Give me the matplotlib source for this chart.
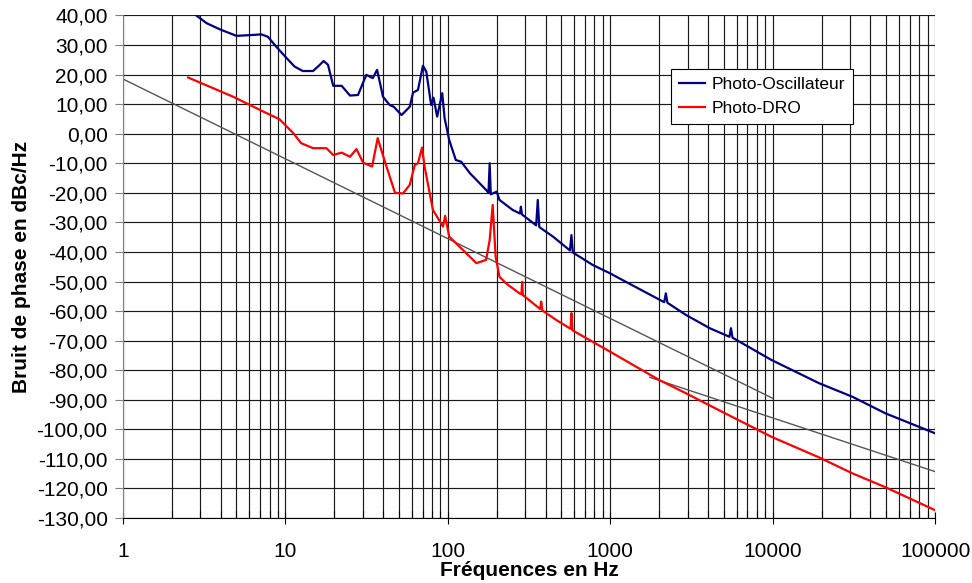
"""Phase noise comparison: Photo-Oscillateur vs Photo-DRO (log frequency axis)."""

import matplotlib
matplotlib.use("Agg")
import matplotlib.pyplot as plt
from matplotlib.ticker import FixedLocator, FuncFormatter, LogLocator, NullFormatter

plt.rcParams["font.family"] = ["Liberation Sans", "DejaVu Sans"]

# Photo-Oscillateur (Hz, dBc/Hz)
osc_freq = [2.8, 3.27, 3.95, 5.0, 6.3, 7.1, 7.8, 8.8, 10.2, 11.4, 12.8, 14.8, 16.3,
            17.2, 18.3, 19.7, 22.2, 25.0, 28.0, 31.5, 34.5, 36.7, 39.9, 43.9, 46.5,
            51.9, 58.3, 61.1, 65.5, 70.3, 73.7, 79.0, 81.6, 86.0, 92.4, 95.6, 102,
            112, 121, 137, 172, 178, 181, 184, 200, 208, 251, 278, 282, 286, 350,
            358, 366, 444, 565, 577, 589, 780, 995, 1135, 2150, 2200, 2250, 2925,
            4100, 5420, 5540, 5660, 9800, 19300, 31000, 49500, 99500]
osc_val = [40.2, 37.4, 35.3, 33.1, 33.4, 33.6, 32.8, 29.4, 25.5, 22.7, 21.2, 21.2, 23.3,
           24.6, 23.3, 16.2, 16.2, 12.9, 13.1, 19.9, 18.8, 21.6, 12.5, 9.7, 9.1,
           6.3, 9.1, 13.9, 14.8, 23.0, 21.0, 9.7, 12.2, 5.8, 13.7, 5.2, -2.1,
           -8.9, -9.5, -13.4, -19.0, -20.0, -10.0, -20.5, -19.6, -22.4, -25.8, -27.0, -24.7, -27.3, -31.0,
           -22.4, -31.6, -34.8, -39.5, -34.3, -40.2, -44.4, -47.2, -48.9, -57.0, -54.0, -57.2, -61.3,
           -65.8, -68.7, -65.8, -69.0, -76.5, -84.4, -89.0, -94.6, -101.3]

# Photo-DRO (Hz, dBc/Hz)
dro_freq = [2.52, 4.77, 7.3, 9.2, 11.2, 12.5, 14.8, 17.9, 19.7, 22.2, 25.0, 27.4, 30.1,
            34.2, 37.0, 40.7, 47.3, 53.0, 58.3, 62.6, 65.5, 69.4, 72.0, 77.4, 81.0,
            93.4, 96.3, 102, 121, 150, 172, 181, 189, 197, 208, 228, 276, 284, 287,
            290, 370, 376, 382, 465, 570, 577, 585, 995, 2000, 2925, 5100, 9800,
            19300, 31000, 49500, 99500]
dro_val = [19.0, 12.5, 7.5, 4.9, 0.15, -3.2, -4.9, -4.9, -7.2, -6.4, -7.8, -5.2, -9.8,
           -11.1, -1.5, -8.9, -20.0, -20.2, -17.3, -10.6, -10.0, -4.7, -11.2, -20.2, -25.8,
           -31.4, -27.8, -34.8, -38.8, -43.8, -42.7, -36.0, -24.1, -41.6, -48.4, -50.6, -54.0, -54.3, -50.1,
           -54.6, -59.3, -56.8, -59.8, -63.0, -66.0, -60.7, -66.5, -73.7, -83.3, -87.8, -94.6, -102.5,
           -109.5, -114.9, -119.6, -127.3]

# slope guide lines
guide1_freq = [1, 10000]
guide1_val = [18.5, -89.5]
guide2_freq = [1750, 100000]
guide2_val = [-82.4, -114.3]

y_ticks = list(range(-130, 41, 10))
x_ticks = [1, 10, 100, 1000, 10000, 100000]

fig = plt.figure(figsize=(9.72, 5.83), dpi=100)
ax = fig.add_axes([0.1265, 0.1115, 0.8355, 0.862])

ax.plot(guide1_freq, guide1_val, color="#555555", lw=1.0)
ax.plot(guide2_freq, guide2_val, color="#555555", lw=1.0)
ax.plot(osc_freq, osc_val, color="#000080", lw=1.6, label="Photo-Oscillateur")
ax.plot(dro_freq, dro_val, color="#ff0000", lw=1.6, label="Photo-DRO")

ax.set_xscale("log")
ax.set_xlim(1, 100000)
ax.set_ylim(-130, 40)

ax.xaxis.set_major_locator(FixedLocator(x_ticks))
ax.xaxis.set_major_formatter(FuncFormatter(lambda v, p: f"{int(round(v))}"))
ax.xaxis.set_minor_locator(LogLocator(base=10, subs=range(2, 10), numticks=20))
ax.xaxis.set_minor_formatter(NullFormatter())
ax.yaxis.set_major_locator(FixedLocator(y_ticks))
ax.yaxis.set_major_formatter(FuncFormatter(lambda v, p: f"{v:.2f}".replace(".", ",")))

ax.grid(True, which="both", axis="x", color="#1a1a1a", lw=0.85)
ax.grid(True, which="major", axis="y", color="#1a1a1a", lw=0.85)
ax.set_axisbelow(True)

ax.tick_params(axis="y", which="major", direction="out", length=6, width=0.8,
               color="#808080", pad=5, labelsize=15)
ax.tick_params(axis="x", which="major", direction="inout", length=8, width=0.8,
               pad=13, labelsize=15)
ax.tick_params(axis="x", which="minor", direction="in", length=5, width=0.8)

ax.spines["top"].set_visible(False)
ax.spines["right"].set_visible(False)
ax.spines["left"].set_color("#808080")
ax.spines["bottom"].set_color("#000000")

ax.set_xlabel("Fréquences en Hz", fontsize=15, fontweight="bold", labelpad=0)
ax.set_ylabel("Bruit de phase en dBc/Hz", fontsize=15, fontweight="bold", labelpad=4)

leg = ax.legend(loc="upper left", bbox_to_anchor=(0.675, 0.893), borderaxespad=0,
                fontsize=12.5, frameon=True, fancybox=False, shadow=False,
                handlelength=1.5, handletextpad=0.4, labelspacing=0.5,
                borderpad=0.45)
leg.get_frame().set_edgecolor("#000000")
leg.get_frame().set_linewidth(0.8)
leg.get_frame().set_alpha(1)

fig.savefig("out.png", dpi=100)
